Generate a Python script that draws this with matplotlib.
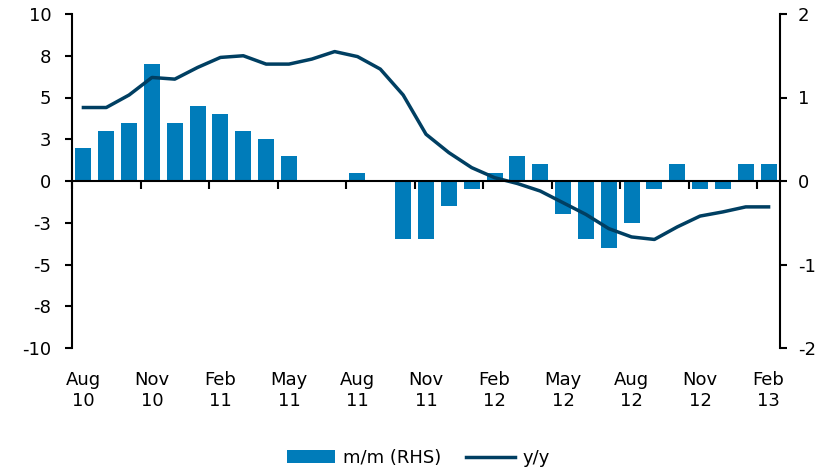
import numpy as np
import matplotlib.pyplot as plt
from matplotlib.ticker import FixedLocator, FixedFormatter

plt.rcParams['font.family'] = 'DejaVu Sans'
plt.rcParams['font.size'] = 13

# monthly data Aug 10 .. Feb 13
mm = [0.4, 0.6, 0.7, 1.4, 0.7, 0.9, 0.8, 0.6, 0.5, 0.3,
      0.0, 0.0, 0.1, 0.0, -0.7, -0.7, -0.3, -0.1, 0.1, 0.3,
      0.2, -0.4, -0.7, -0.8, -0.5, -0.1, 0.2, -0.1, -0.1, 0.2, 0.2]
yy = [4.4, 4.4, 5.15, 6.2, 6.1, 6.8, 7.4, 7.5, 7.0, 7.0,
      7.3, 7.75, 7.45, 6.7, 5.15, 2.8, 1.7, 0.8, 0.2, -0.15,
      -0.6, -1.3, -2.0, -2.85, -3.35, -3.5, -2.75, -2.1, -1.85, -1.55, -1.55]
xlabels = ['Aug\n10', 'Nov\n10', 'Feb\n11', 'May\n11', 'Aug\n11', 'Nov\n11',
           'Feb\n12', 'May\n12', 'Aug\n12', 'Nov\n12', 'Feb\n13']
left_ticks = [10, 7.5, 5, 2.5, 0, -2.5, -5, -7.5, -10]
left_labels = ['10', '8', '5', '3', '0', '-3', '-5', '-8', '-10']

x = np.arange(len(mm))

fig = plt.figure(figsize=(8.36, 4.72), dpi=100)
ax = fig.add_axes([72/836, 1-348/472, (780-72)/836, (348-14)/472])
ax2 = ax.twinx()

ax2.bar(x, mm, width=0.7, color='#007cba', label='m/m (RHS)')
ax.plot(x, yy, color='#003f62', lw=2.5, label='y/y')

ax.set_zorder(ax2.get_zorder() + 1)
ax.patch.set_visible(False)

ax.set_xlim(-0.5, len(mm) - 0.5)
ax.set_ylim(-10, 10)
ax2.set_ylim(-2, 2)

ax.yaxis.set_major_locator(FixedLocator(left_ticks))
ax.yaxis.set_major_formatter(FixedFormatter(left_labels))
ax2.set_yticks([-2, -1, 0, 1, 2])
ax2.set_yticklabels(['-2', '-1', '0', '1', '2'])

for a in (ax, ax2):
    a.spines['top'].set_visible(False)
    a.spines['bottom'].set_visible(False)
ax.spines['right'].set_visible(False)
ax2.spines['left'].set_visible(False)
ax.spines['bottom'].set_visible(True)
ax.spines['bottom'].set_position(('data', 0))
for s in ('left', 'bottom'):
    ax.spines[s].set_linewidth(1.5)
ax2.spines['right'].set_linewidth(1.5)

ax.tick_params(axis='y', direction='out', length=5, width=1.5, pad=10)
ax2.tick_params(axis='y', direction='out', length=5, width=1.5, pad=8)

ax.set_xticks(x[::3])
ax.set_xticklabels(xlabels)
ax.set_xticks(np.arange(-0.5, len(mm) - 1, 3), minor=True)
ax.tick_params(axis='x', which='major', length=0, pad=137)
ax.tick_params(axis='x', which='minor', direction='out', length=6, width=1.5)

h1, l1 = ax2.get_legend_handles_labels()
h2, l2 = ax.get_legend_handles_labels()
fig.legend(h1 + h2, l1 + l2, loc='center', bbox_to_anchor=(0.5, 0.03),
           ncol=2, frameon=False, handlelength=2.7, handleheight=0.65,
           columnspacing=1.4, handletextpad=0.4)

fig.savefig('out.png', dpi=100)
